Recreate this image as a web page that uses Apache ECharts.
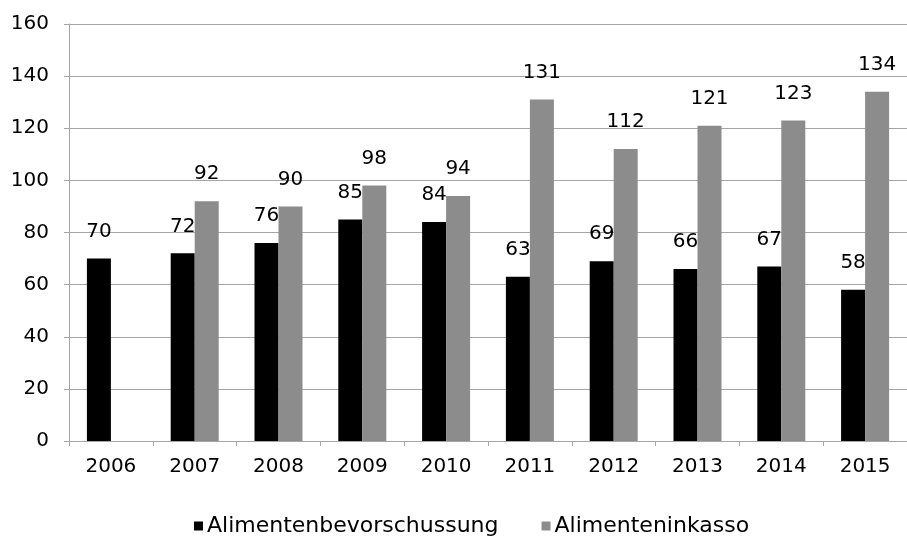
<!DOCTYPE html>
<html>
<head>
<meta charset="utf-8">
<script src="https://cdn.jsdelivr.net/npm/echarts@6/dist/echarts.min.js"></script>
<style>
  html, body { margin: 0; padding: 0; background: #fff; }
  #chart { width: 907px; height: 538px; }
</style>
</head>
<body>
<div id="chart"></div>
<script>
// Daten
const years = ["2006", "2007", "2008", "2009", "2010", "2011", "2012", "2013", "2014", "2015"];
const bevorschussung = [70, 72, 76, 85, 84, 63, 69, 66, 67, 58];
const inkasso = [null, 92, 90, 98, 94, 131, 112, 121, 123, 134];
const seriesNames = ["Alimentenbevorschussung", "Alimenteninkasso"];

const font = "DejaVu Sans";
const gridColor = "#a6a6a6";

const chart = echarts.init(document.getElementById("chart"));

const labelStyle = {
    show: true,
    position: "top",
    distance: 17,
    color: "#000",
    fontFamily: font,
    fontSize: 20
};

chart.setOption({
    animation: false,
    backgroundColor: "#fff",
    grid: { left: 69, top: 24, width: 847, height: 417 },
    legend: {
        left: 189,
        top: 510,
        itemWidth: 9,
        itemHeight: 9,
        itemGap: 43,
        icon: "rect",
        textStyle: { fontFamily: font, fontSize: 22, color: "#000", padding: [0, 0, 0, -1] },
        data: seriesNames
    },
    xAxis: {
        type: "category",
        data: years,
        axisLine: { lineStyle: { color: gridColor, width: 1 } },
        axisTick: { show: true, length: 5, lineStyle: { color: gridColor } },
        axisLabel: { color: "#000", fontFamily: font, fontSize: 20, margin: 16 }
    },
    yAxis: {
        type: "value",
        min: 0,
        max: 160,
        interval: 20,
        axisLine: { show: true, lineStyle: { color: gridColor, width: 1 } },
        axisTick: { show: true, length: 5, lineStyle: { color: gridColor } },
        axisLabel: { color: "#000", fontFamily: font, fontSize: 20, margin: 20 },
        splitLine: { lineStyle: { color: gridColor, width: 1 } }
    },
    series: [
        {
            name: seriesNames[0],
            type: "bar",
            data: bevorschussung,
            barWidth: 24,
            barGap: "0%",
            itemStyle: { color: "#000" },
            label: labelStyle
        },
        {
            name: seriesNames[1],
            type: "bar",
            data: inkasso,
            barWidth: 24,
            barGap: "0%",
            itemStyle: { color: "#8c8c8c" },
            label: labelStyle
        }
    ]
});
</script>
</body>
</html>
